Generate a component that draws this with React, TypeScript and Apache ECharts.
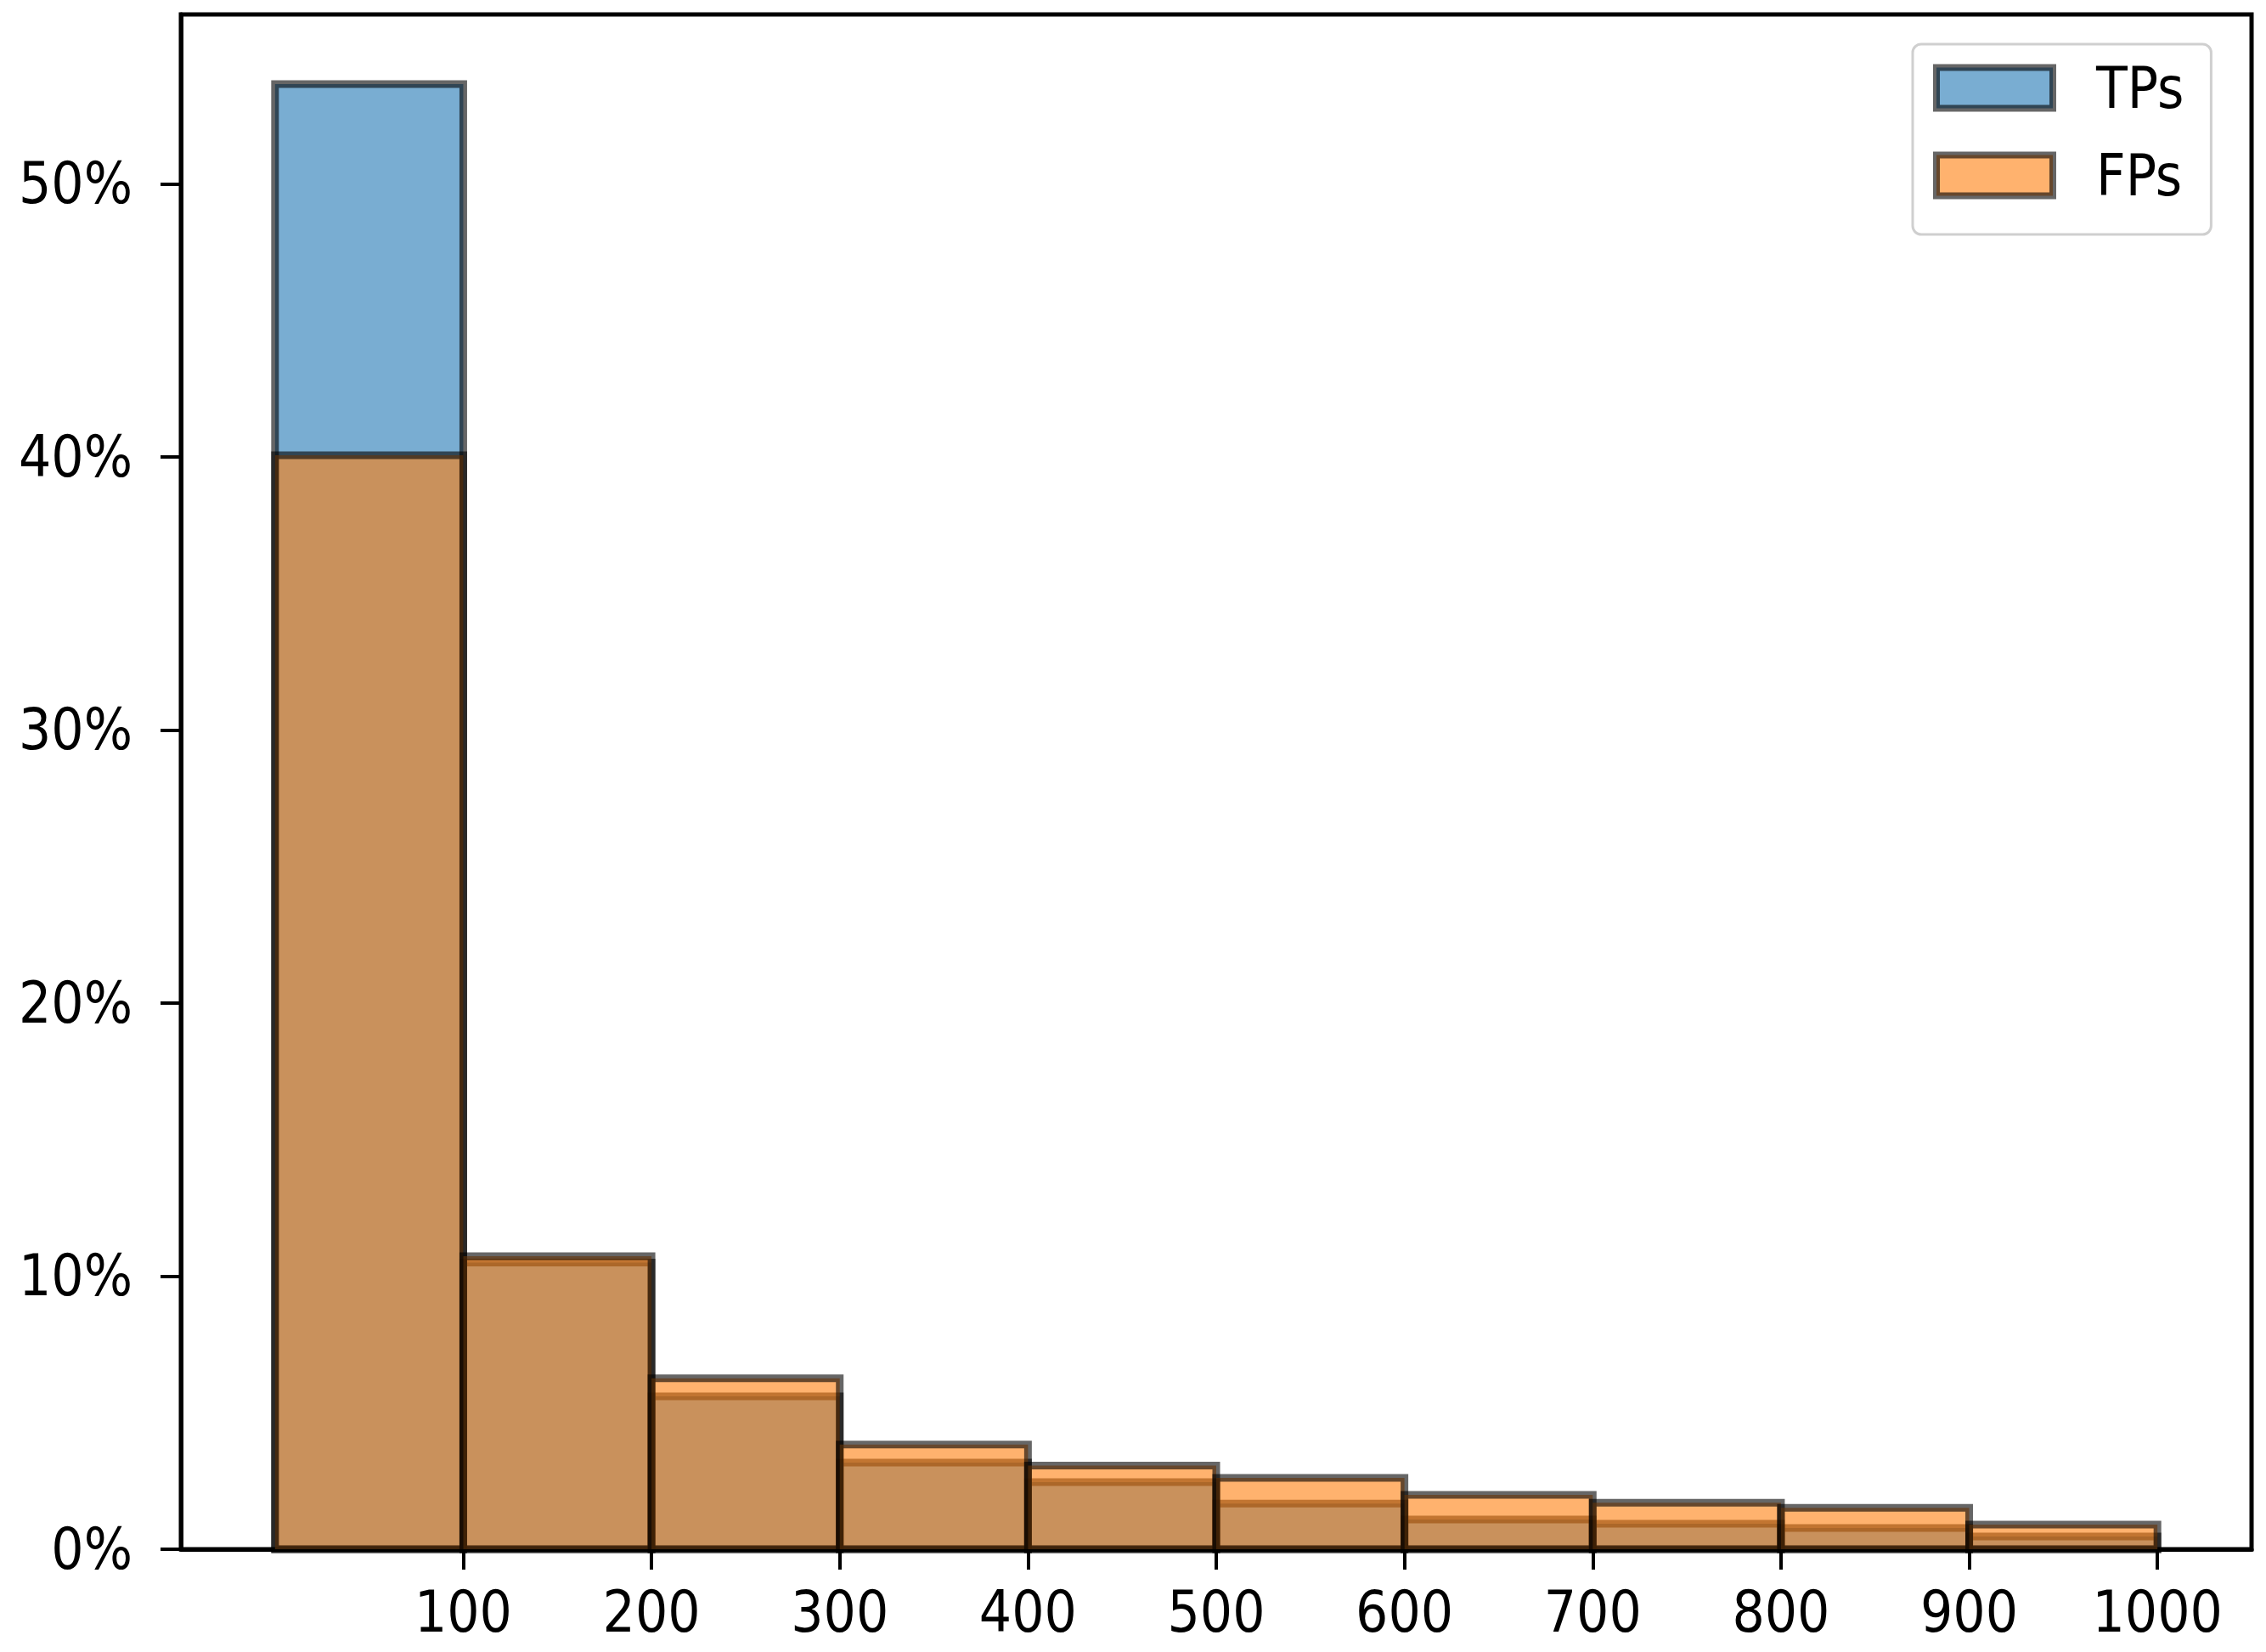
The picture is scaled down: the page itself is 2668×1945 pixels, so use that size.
import React, { useEffect, useRef } from "react";
import * as echarts from "echarts";

const binEdges = [0, 100, 200, 300, 400, 500, 600, 700, 800, 900, 1000];
const tpValues = [53.65, 10.5, 5.6, 3.17, 2.46, 1.67, 1.09, 0.93, 0.78, 0.47];
const fpValues = [40.06, 10.73, 6.26, 3.83, 3.06, 2.61, 1.99, 1.7, 1.52, 0.9];
const xTicks = [100, 200, 300, 400, 500, 600, 700, 800, 900, 1000];
const yTicks = [0, 10, 20, 30, 40, 50];
const seriesNames = ["TPs", "FPs"];

const FONT = "'DejaVu Sans Condensed', 'Liberation Sans', sans-serif";
const TP_FILL = "rgba(31,119,180,0.6)";
const FP_FILL = "rgba(255,127,14,0.6)";
const EDGE = "rgba(0,0,0,0.6)";

function histData(values: number[]) {
  return values.map((v, i) => [binEdges[i], binEdges[i + 1], v]);
}

function makeRender(fill: string) {
  return (params: any, api: any) => {
    const x0 = api.value(0);
    const x1 = api.value(1);
    const v = api.value(2);
    const p0 = api.coord([x0, 0]);
    const p1 = api.coord([x1, v]);
    return {
      type: "rect",
      shape: { x: p0[0], y: p1[1], width: p1[0] - p0[0], height: p0[1] - p1[1] },
      style: { fill, stroke: EDGE, lineWidth: 9 },
    };
  };
}

export default function App() {
  const ref = useRef<HTMLDivElement>(null);
  useEffect(() => {
    if (!ref.current) return;
    const chart = echarts.init(ref.current, null, { renderer: "svg" });
    chart.setOption({
      animation: false,
      backgroundColor: "#fff",
      grid: {
        left: 213,
        right: 17,
        top: 17,
        bottom: 121,
        show: true,
        borderColor: "#000",
        borderWidth: 5,
        backgroundColor: "transparent",
      },
      legend: {
        orient: "vertical",
        left: 2252,
        top: 52,
        padding: [18, 32, 36, 24],
        itemGap: 36,
        itemWidth: 137,
        itemHeight: 48,
        borderColor: "#cfcfcf",
        borderWidth: 3,
        borderRadius: 10,
        backgroundColor: "rgba(255,255,255,0.8)",
        textStyle: { fontFamily: FONT, fontSize: 67, lineHeight: 67, color: "#000", padding: [0, 0, 0, 46] },
        data: [
          { name: seriesNames[0], icon: "rect", itemStyle: { color: TP_FILL, borderColor: EDGE, borderWidth: 8 } },
          { name: seriesNames[1], icon: "rect", itemStyle: { color: FP_FILL, borderColor: EDGE, borderWidth: 8 } },
        ],
      },
      xAxis: {
        type: "value",
        min: -50,
        max: 1050,
        splitLine: { show: false },
        axisLine: { show: true, onZero: false, lineStyle: { color: "#000", width: 5 } },
        axisTick: { show: true, length: 24, lineStyle: { color: "#000", width: 4 }, customValues: xTicks },
        axisLabel: {
          customValues: xTicks,
          fontFamily: FONT,
          fontSize: 67,
          color: "#000",
          margin: 40,
          formatter: (v: number) => String(v),
        },
      },
      yAxis: {
        type: "value",
        min: 0,
        max: 56.2,
        splitLine: { show: false },
        axisLine: { show: true, onZero: false, lineStyle: { color: "#000", width: 5 } },
        axisTick: { show: true, length: 24, lineStyle: { color: "#000", width: 4 }, customValues: yTicks },
        axisLabel: {
          customValues: yTicks,
          fontFamily: FONT,
          fontSize: 67,
          color: "#000",
          margin: 57,
          formatter: (v: number) => `${v}%`,
        },
      },
      series: [
        {
          name: seriesNames[0],
          type: "custom",
          renderItem: makeRender(TP_FILL),
          itemStyle: { color: TP_FILL },
          encode: { x: [0, 1], y: 2 },
          data: histData(tpValues),
        },
        {
          name: seriesNames[1],
          type: "custom",
          renderItem: makeRender(FP_FILL),
          itemStyle: { color: FP_FILL },
          encode: { x: [0, 1], y: 2 },
          data: histData(fpValues),
        },
      ],
    });
    return () => chart.dispose();
  }, []);
  return <div ref={ref} style={{ position: "fixed", left: 0, top: 0, width: 2668, height: 1945 }} />;
}
